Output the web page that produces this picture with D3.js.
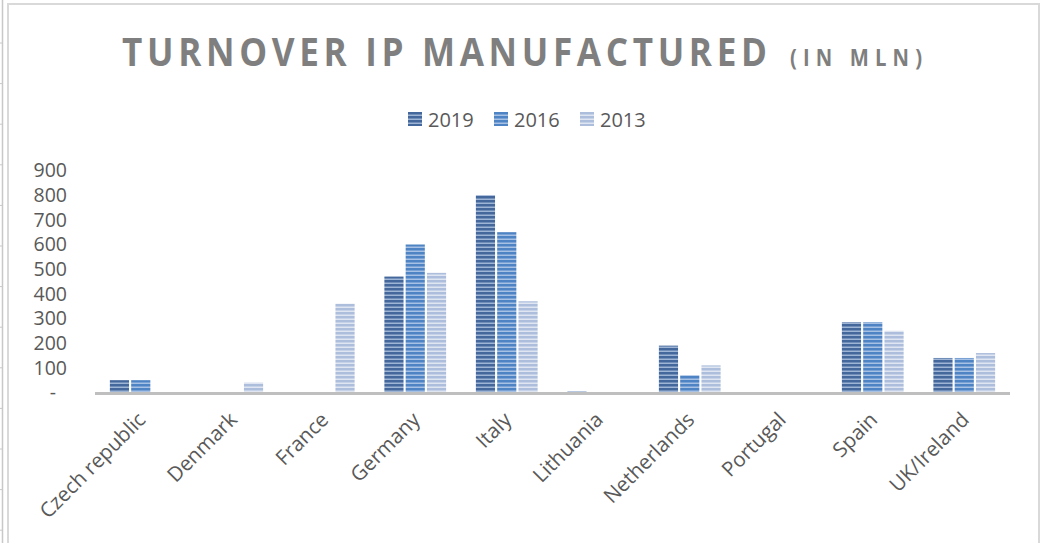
<!DOCTYPE html>
<html>
<head>
<meta charset="utf-8">
<script src="https://cdn.jsdelivr.net/npm/d3@7"></script>
<style>
  body { margin: 0; background: #fff; }
  svg { display: block; }
  text { font-family: "Open Sans", "DejaVu Sans", sans-serif; }
</style>
</head>
<body>
<div id="chart"></div>
<script>
// data
const countries = ["Czech republic", "Denmark", "France", "Germany", "Italy",
                   "Lithuania", "Netherlands", "Portugal", "Spain", "UK/Ireland"];
const years = ["2019", "2016", "2013"];
const values2019 = [50, 0, 0, 470, 800, 5, 190, 0, 285, 140];
const values2016 = [50, 0, 0, 600, 650, 0, 70, 0, 285, 140];
const values2013 = [0, 40, 360, 485, 370, 0, 110, 0, 250, 160];
const yTicks = [0, 100, 200, 300, 400, 500, 600, 700, 800, 900];

const seriesValues = { "2019": values2019, "2016": values2016, "2013": values2013 };

const width = 1042, height = 543;

const svg = d3.select("#chart").append("svg")
    .attr("width", width)
    .attr("height", height);

// striped fills, like the excel "narrow horizontal" pattern
const stripes = {
    "2019": ["#44689c", "#9fb5d5"],
    "2016": ["#4f84c4", "#a6c1e4"],
    "2013": ["#adbedc", "#dfe6f2"]
};
const defs = svg.append("defs");
years.forEach(yr => {
    const p = defs.append("pattern")
        .attr("id", "pat" + yr)
        .attr("patternUnits", "userSpaceOnUse")
        .attr("width", 8)
        .attr("height", 4);
    p.append("rect").attr("width", 8).attr("height", 4).attr("fill", stripes[yr][1]);
    p.append("rect").attr("width", 8).attr("height", 2.5).attr("fill", stripes[yr][0]);
});

// sheet background bits on the left and the chart frame
svg.append("line")
    .attr("x1", 2.5).attr("x2", 2.5).attr("y1", 0).attr("y2", height)
    .attr("stroke", "#c8c8c8").attr("stroke-width", 1.5);
svg.append("g").selectAll("line")
    .data(d3.range(43, height, 40.6))
    .join("line")
    .attr("x1", 0).attr("x2", 3)
    .attr("y1", d => d).attr("y2", d => d)
    .attr("stroke", "#c8c8c8");
svg.append("rect")
    .attr("x", 8).attr("y", 4)
    .attr("width", 1031).attr("height", 560)
    .attr("fill", "#fff")
    .attr("stroke", "#d9d9d9")
    .attr("stroke-width", 2);

// title - bold glyphs, a bit narrowed and spaced out
svg.append("text")
    .attr("transform", "translate(122,66) scale(0.9,1)")
    .attr("textLength", 645 / 0.9)
    .attr("lengthAdjust", "spacing")
    .attr("font-size", 39)
    .attr("font-weight", "bold")
    .attr("fill", "#7f7f7f")
    .text("TURNOVER IP MANUFACTURED");
svg.append("text")
    .attr("transform", "translate(790,66) scale(0.88,1)")
    .attr("textLength", 132 / 0.88)
    .attr("lengthAdjust", "spacing")
    .attr("font-size", 23)
    .attr("font-weight", "bold")
    .attr("fill", "#7f7f7f")
    .text("(IN MLN)");

// legend
const legendX = [408, 494, 580];
const legend = svg.append("g").selectAll("g")
    .data(years)
    .join("g")
    .attr("transform", (d, i) => `translate(${legendX[i]},112)`);
legend.append("rect")
    .attr("width", 14).attr("height", 14)
    .attr("fill", d => `url(#pat${d})`);
legend.append("text")
    .attr("x", 20).attr("y", 14.5)
    .attr("font-size", 20)
    .attr("fill", "#595959")
    .text(d => d);

// scales
const x = d3.scaleBand()
    .domain(countries)
    .range([95, 1010])
    .paddingInner(0.2787)
    .paddingOuter(0.1393);
const x1 = d3.scaleBand()
    .domain(years)
    .range([0, x.bandwidth()])
    .padding(0.1);
const y = d3.scaleLinear()
    .domain([0, 900])
    .range([392.5, 170.5]);

// y axis
const yAxis = svg.append("g")
    .attr("transform", "translate(95,0)")
    .call(d3.axisLeft(y)
        .tickValues(yTicks)
        .tickSize(0)
        .tickPadding(28)
        .tickFormat(d => d === 0 ? "-" : d));
yAxis.select(".domain").remove();
yAxis.selectAll("text")
    .attr("font-family", "'Open Sans', sans-serif")
    .attr("font-size", 19.5)
    .attr("fill", "#595959")
    .attr("dx", d => d === 0 ? -11 : 0);

// bars
const groups = svg.append("g").selectAll("g")
    .data(countries)
    .join("g")
    .attr("transform", d => `translate(${x(d)},0)`);
groups.selectAll("rect")
    .data((c, i) => years.map(yr => ({ year: yr, value: seriesValues[yr][i] })))
    .join("rect")
    .filter(d => d.value > 0)
    .attr("x", d => x1(d.year))
    .attr("y", d => y(d.value))
    .attr("width", x1.bandwidth())
    .attr("height", d => y(0) - y(d.value))
    .attr("fill", d => `url(#pat${d.year})`);

// baseline
svg.append("line")
    .attr("x1", 95).attr("x2", 1010)
    .attr("y1", 393.5).attr("y2", 393.5)
    .attr("stroke", "#bfbfbf")
    .attr("stroke-width", 3);

// category labels, rotated
svg.append("g").selectAll("text")
    .data(countries)
    .join("text")
    .attr("transform", d => `translate(${x(d) + x.bandwidth() / 2 + 6},421) rotate(-45)`)
    .attr("text-anchor", "end")
    .attr("font-size", 20.5)
    .attr("fill", "#595959")
    .text(d => d);
</script>
</body>
</html>
